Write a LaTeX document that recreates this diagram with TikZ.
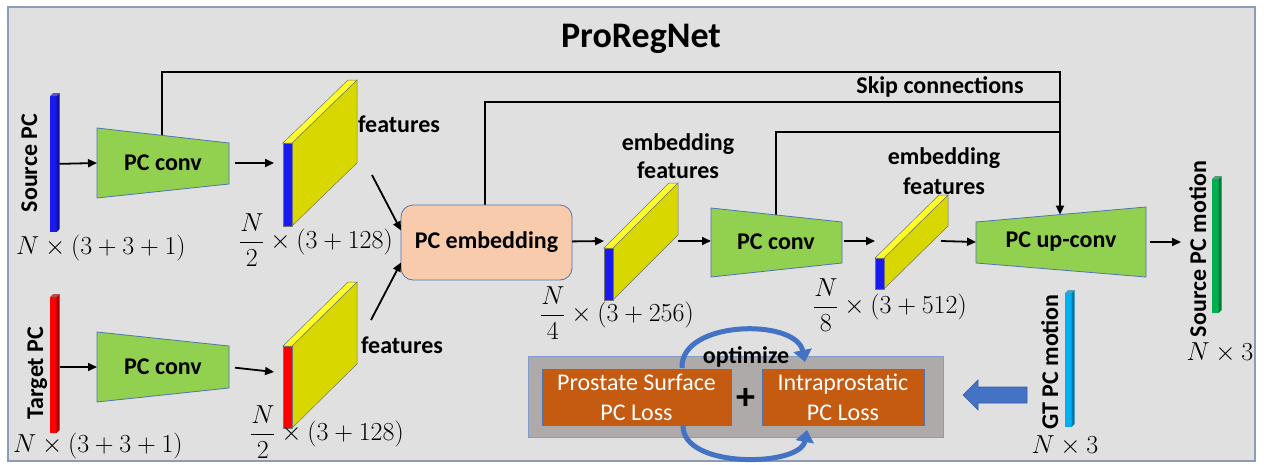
\RequirePackage{fix-cm}
\documentclass[tikz,border=0pt]{standalone}
\usepackage{fontspec}
\setmainfont{Carlito}
\usetikzlibrary{arrows.meta,calc}

\definecolor{framefill}{HTML}{E0E0E0}
\definecolor{frameedge}{HTML}{8A9CB8}
\definecolor{convgreen}{HTML}{92D050}
\definecolor{edgeblue}{HTML}{4F74B0}
\definecolor{peach}{HTML}{F8CBAD}
\definecolor{slabside}{HTML}{D8D800}
\definecolor{slabtop}{HTML}{FFFF2A}
\definecolor{barblue}{HTML}{1A1AF0}
\definecolor{barbluedark}{HTML}{10109A}
\definecolor{barred}{HTML}{FF0000}
\definecolor{barreddark}{HTML}{A00000}
\definecolor{bargreen}{HTML}{00B050}
\definecolor{bargreendark}{HTML}{007A38}
\definecolor{barcyan}{HTML}{00B0F0}
\definecolor{barcyandark}{HTML}{0078A8}
\definecolor{lossgray}{HTML}{ADAAA9}
\definecolor{lossedge}{HTML}{7F9CCB}
\definecolor{lossorange}{HTML}{C55A11}
\definecolor{optblue}{HTML}{4472C4}

% feature slab: #1 x, #2 top y, #3 thickness, #4 height, #5 dx, #6 dy, #7 front colour
\newcommand{\featureslab}[7]{%
  \filldraw[fill=slabside, draw=black!55, line width=0.5pt]
    (#1+#3,#2) -- (#1+#3+#5,#2+#6) -- (#1+#3+#5,#2+#6+#4) -- (#1+#3,#2+#4) -- cycle;
  \filldraw[fill=slabtop, draw=black!55, line width=0.5pt]
    (#1,#2) -- (#1+#3,#2) -- (#1+#3+#5,#2+#6) -- (#1+#5,#2+#6) -- cycle;
  \filldraw[fill=#7, draw=black!55, line width=0.5pt]
    (#1,#2) rectangle (#1+#3,#2+#4);
}

% point-cloud bar: #1 name, #2 x, #3 top y, #4 height, #5 front colour, #6 side colour
\newcommand{\pcbar}[6]{%
  \node[fill=#5, minimum width=6.5pt, minimum height=#4pt, anchor=north west] (#1) at (#2,#3) {};
  \fill[#6] (#1.north east) -- ++(3,-3) -- ++(0,#4) -- (#1.south east) -- cycle;
  \fill[#6!70!white] (#1.north west) -- ++(3,-3) -- ++(6.5,0) -- (#1.north east) -- cycle;
}

\begin{document}
\begin{tikzpicture}[x=1pt,y=-1pt,
  every node/.style={inner sep=0pt, outer sep=0pt},
  lbl/.style={font=\bfseries\fontsize{24}{28}\selectfont},
  mathlbl/.style={font=\fontsize{26}{30}\selectfont},
  conn/.style={draw=black, line width=1.8pt},
  arr/.style={conn, -{Triangle[length=9pt,width=8pt]}},
  convshape/.style={fill=convgreen, draw=edgeblue, line width=0.8pt},
  lossbox/.style={fill=lossorange, draw=edgeblue, line width=0.8pt, text=white,
    align=center, font=\fontsize{24}{30}\selectfont},
  optarrow/.style={draw=optblue, line width=5pt, -{Triangle[length=12pt,width=18pt]}}]

\useasboundingbox (0,0) rectangle (1264,464);
\fill[white] (0,0) rectangle (1264,464);
\draw[fill=framefill, draw=frameedge, line width=1.3pt] (8,7) rectangle (1255,461);

\node[font=\bfseries\fontsize{36}{40}\selectfont, anchor=base] (title) at (641,47) {ProRegNet};

% ---------- anchor points of the drawn shapes ----------
\coordinate (conv1in)  at (97,163);
\coordinate (conv1out) at (229,163);
\coordinate (conv1top) at (162,135);
\coordinate (conv2in)  at (97,367);
\coordinate (conv2out) at (229,367);
\coordinate (f1in)  at (283,163);
\coordinate (f2in)  at (283,373);
\coordinate (f1out) at (372,175);
\coordinate (f2out) at (371,320);
\coordinate (f3in)  at (604,241);
\coordinate (f3out) at (678,241);
\coordinate (conv3in)  at (711,241);
\coordinate (conv3out) at (842,241);
\coordinate (conv3top) at (776,215);
\coordinate (f4in)  at (875,241);
\coordinate (f4out) at (941,241);
\coordinate (upin)  at (976,242);
\coordinate (upout) at (1146,242);
\coordinate (uptop) at (1060,214.6);
\coordinate (motionin) at (1181,242);
\coordinate (j1) at (1060,72);
\coordinate (j2) at (1060,102);
\coordinate (j3) at (1060,132);

% ---------- skip connections ----------
\draw[conn] (conv3top) |- (j3);
\draw[arr] (conv1top) |- (j1) -- (uptop);
\node[lbl] (skiplbl) at (940,87) {Skip connections};

% ---------- inputs ----------
\pcbar{src}{50}{96}{136}{barblue}{barbluedark}
\pcbar{tgt}{50}{297}{136}{barred}{barreddark}
\node[lbl, rotate=90, anchor=base] (srclbl) at (37,163) {Source PC};
\node[lbl, rotate=90, anchor=base] (tgtlbl) at (43,373) {Target PC};
\node[mathlbl] (srcdim) at (101,248) {$N\times(3+3+1)$};
\node[mathlbl] (tgtdim) at (98,446) {$N\times(3+3+1)$};

% ---------- encoders ----------
\draw[convshape] (97,128) -- (229,143) -- (229,184) -- (97,198) -- cycle;
\node[lbl] (conv1) at (163,163) {PC conv};
\draw[convshape] (97,332) -- (229,346) -- (229,388) -- (97,402) -- cycle;
\node[lbl] (conv2) at (163,367) {PC conv};

\draw[arr, shorten <=3pt] (src) -- (conv1in);
\draw[arr, shorten <=3pt] (tgt.east |- conv2in) -- (conv2in);
\draw[arr, shorten <=6pt, shorten >=9pt] (conv1out) -- (f1in);
\draw[arr, shorten <=6pt, shorten >=9pt] (conv2out) -- (f2in);

% ---------- encoder features ----------
\featureslab{283}{143}{9}{83}{65}{-63}{barblue}
\featureslab{283}{346}{9}{82}{65}{-64}{barred}
\node[lbl, anchor=west] (feat1) at (358,124) {features};
\node[lbl, anchor=west] (feat2) at (361,345) {features};
\node[mathlbl] (f1dim) at (316,240) {$\displaystyle\frac{N}{2}\times(3+128)$};
\node[mathlbl] (f2dim) at (327,432) {$\displaystyle\frac{N}{2}\times(3+128)$};

% ---------- embedding ----------
\draw[conn] (485,205) coordinate (embtop) |- (j2);
\node[fill=peach, draw=edgeblue, line width=0.8pt, rounded corners=12pt,
  minimum width=171pt, minimum height=75pt, lbl] (emb) at (486.5,242.5) {PC embedding};
\draw[arr] (f1out) -- ([yshift=12pt]emb.west);
\draw[arr] (f2out) -- ([yshift=-20pt]emb.west);
\draw[arr] (emb) -- (f3in);

\featureslab{604}{248}{9}{52}{65}{-65}{barblue}
\node[lbl, align=center, font=\bfseries\fontsize{24}{28}\selectfont] (emb1lbl) at (678,156) {embedding\\features};
\node[mathlbl] (f3dim) at (617,313) {$\displaystyle\frac{N}{4}\times(3+256)$};
\draw[arr] (f3out) -- (conv3in);

% ---------- second conv ----------
\draw[convshape] (711,208) -- (842,222) -- (842,263) -- (711,277) -- cycle;
\node[lbl] (conv3) at (776,242) {PC conv};
\draw[arr, shorten <=2pt] (conv3out) -- (f4in);

\featureslab{875}{258}{9}{31}{64}{-63}{barblue}
\node[lbl, align=center, font=\bfseries\fontsize{24}{30}\selectfont] (emb2lbl) at (944,171) {embedding\\features};
\node[mathlbl] (f4dim) at (890,305) {$\displaystyle\frac{N}{8}\times(3+512)$};
\draw[arr] (f4out) -- (upin);

% ---------- decoder ----------
\draw[convshape] (976,222) -- (1146,207) -- (1146,277) -- (976,263) -- cycle;
\node[lbl] (upconv) at (1061,242) {PC up-conv};
\draw[arr, shorten <=4pt] (upout) -- (motionin);

\pcbar{motion}{1212}{179}{134}{bargreen}{bargreendark}
\node[lbl, rotate=90, anchor=base] (motionlbl) at (1206,249) {Source PC motion};
\node[mathlbl] (motiondim) at (1220,353) {$N\times 3$};

\pcbar{gt}{1065}{293}{134}{barcyan}{barcyandark}
\node[lbl, rotate=90, anchor=base] (gtlbl) at (1058,362) {GT PC motion};
\node[mathlbl] (gtdim) at (1065,446) {$N\times 3$};

% ---------- loss ----------
\node[fill=lossgray, draw=lossedge, line width=1pt, minimum width=415pt, minimum height=81pt] (lossbg) at (735.5,396.5) {};
\node[lossbox, minimum width=189pt, minimum height=56pt] (loss1) at (636.5,397) {Prostate Surface\\PC Loss};
\node[lossbox, minimum width=162pt, minimum height=56pt] (loss2) at (843,397) {Intraprostatic\\PC Loss};
\node[font=\bfseries\fontsize{38}{40}\selectfont] (plus) at (746,399) {+};

\coordinate (optA) at (682,368);
\coordinate (optB) at (805,362);
\coordinate (optC) at (683,426);
\coordinate (optD) at (807,430);
\draw[optarrow] (optA) .. controls (680,320) and (796,318) .. (optB);
\draw[optarrow] (optC) .. controls (683,469) and (800,467) .. (optD);
\node[lbl] (optlbl) at (746,357) {optimize};

% block arrow from the ground truth towards the loss
\filldraw[fill=optblue, draw=optblue!80!black, line width=0.6pt]
  (963,395) -- (978,380) -- (978,387) -- (1027,387) -- (1027,403) -- (978,403) -- (978,410) -- cycle;
\end{tikzpicture}
\end{document}
